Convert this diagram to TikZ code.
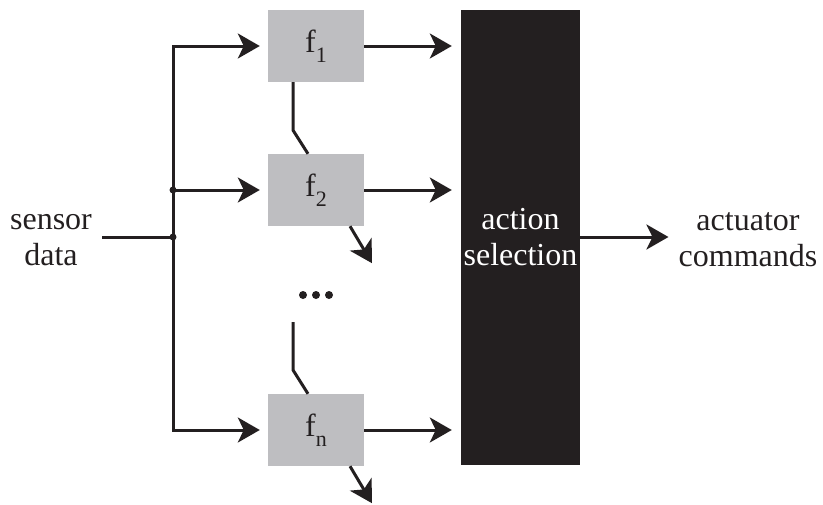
\documentclass[tikz,border=0pt]{standalone}
\usepackage{fontspec}
\setmainfont{Liberation Serif}
\usetikzlibrary{arrows.meta,positioning}
\definecolor{inkblack}{RGB}{35,31,32}
\definecolor{boxgray}{RGB}{190,190,193}
\newcommand{\fsub}[1]{f\raisebox{-10pt}{\fontsize{22}{22}\selectfont #1}}
\tikzset{
  behaviour/.style={rectangle, fill=boxgray, minimum width=96pt, minimum height=72pt,
                    inner sep=0pt, text=inkblack},
  arbiter/.style={rectangle, fill=inkblack, text=white, minimum width=119pt,
                  minimum height=455pt, inner sep=0pt, align=center},
  signal/.style={align=center, text=inkblack, inner sep=10pt},
  wire/.style={draw=inkblack, line width=3pt},
  arrow/.style={wire, -{Stealth[length=22pt,width=25pt,inset=6pt]}},
  junction/.style={fill=inkblack}
}

\begin{document}
\begin{tikzpicture}[x=1pt, y=-1pt, font=\fontsize{32}{36}\selectfont]
\useasboundingbox (0,0) rectangle (823,504);
% behaviours and the arbiter
\node[behaviour] (f1) at (316,46) {\fsub{1}};
\node[behaviour] (f2) at (316,190) {\fsub{2}};
\node[behaviour] (fn) at (316,430) {\fsub{n}};
\node[arbiter] (sel) at (520.5,237.5) {action\\selection};
\node[signal] (sensor) at (51,240) {sensor\\data};
\node[signal] (act) at (748,240) {actuator\\commands};
\coordinate (bus) at (173,237);
\coordinate (more) at (316,295);
\coordinate (hold) at (293,322);

% fan-out bus
\draw[wire, line cap=rect] (f1.west -| bus) -- (fn.west -| bus);
\draw[wire] (sensor.east |- bus) -- (bus);
\foreach \f in {f1,f2,fn} {
  \draw[arrow] (\f.west -| bus) -- ([xshift=-8pt]\f.west);
  \draw[arrow] (\f.east) -- ([xshift=-9pt]sel.west |- \f.east);
}
\fill[junction] (bus) circle (3.5);
\fill[junction] (f2.west -| bus) circle (3.5);

% suppression links
\draw[wire] ([xshift=-23pt]f1.south) -- ++(0,48) -- ([xshift=-8pt]f2.north);
\draw[wire] (hold) -- ++(0,48) -- ([xshift=-8pt]fn.north);

% side outputs
\draw[arrow] ([xshift=34pt]f2.south) -- ++(22,37);
\draw[arrow] ([xshift=34pt]fn.south) -- ++(22,37);

% more behaviours
\foreach \dx in {-13,0,13} \fill[junction] (more) ++(\dx,0) circle (4);

\draw[arrow] (sel.east |- bus) -- (act.west |- bus);
\end{tikzpicture}
\end{document}
